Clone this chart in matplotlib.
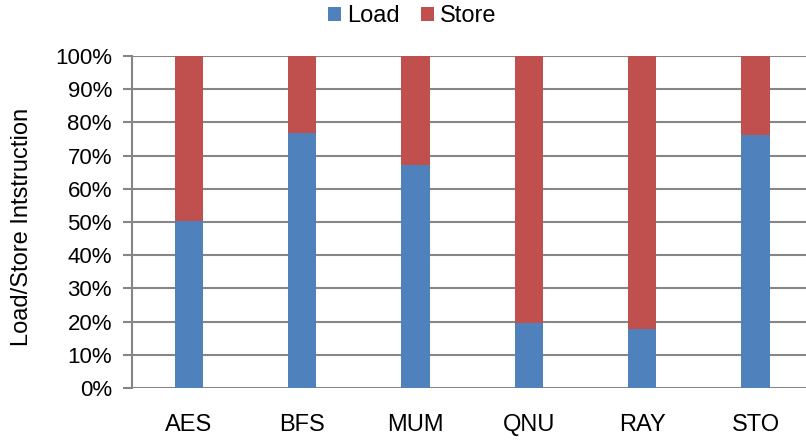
import matplotlib.pyplot as plt
import numpy as np

plt.rcParams['font.family'] = ['Liberation Sans', 'DejaVu Sans']

benchmarks = ["AES", "BFS", "MUM", "QNU", "RAY", "STO"]
load = [50.3, 76.8, 67.2, 19.6, 17.9, 76.2]
store = [100 - v for v in load]

blue = "#4F81BD"
red = "#C0504D"
grid_col = "#868686"

fig = plt.figure(figsize=(8.06, 4.4), dpi=100)
ax = fig.add_axes([0.1638, 0.118, 0.844, 0.755])

x = np.arange(len(benchmarks))
ax.bar(x, load, width=0.25, color=blue, label="Load", zorder=3)
ax.bar(x, store, width=0.25, bottom=load, color=red, label="Store", zorder=3)

ax.set_xlim(-0.5, 5.5)
ax.set_ylim(0, 100)
ax.set_yticks(np.arange(0, 101, 10))
ax.set_yticklabels([f"{v}%" for v in range(0, 101, 10)])
ax.set_xticks(x)
ax.set_xticklabels(benchmarks)

ax.yaxis.grid(True, color=grid_col, linewidth=1.5, zorder=0)
for side in ["top", "right", "bottom"]:
    ax.spines[side].set_visible(False)
ax.spines["left"].set_color(grid_col)
ax.spines["left"].set_linewidth(1.5)

ax.tick_params(axis="y", length=6.5, width=1.5, color=grid_col, labelsize=16, pad=8)
ax.tick_params(axis="x", length=0, labelsize=17, pad=18.5)

ax.set_ylabel("Load/Store Intstruction", fontsize=17)
ax.yaxis.set_label_coords(-0.146, 0.486)

fig.legend(loc="upper center", bbox_to_anchor=(0.511, 1.037), ncol=2, frameon=False,
           fontsize=17, handlelength=0.55, handleheight=0.55, handletextpad=0.25,
           columnspacing=0.9)

fig.savefig("out.png", dpi=100)
